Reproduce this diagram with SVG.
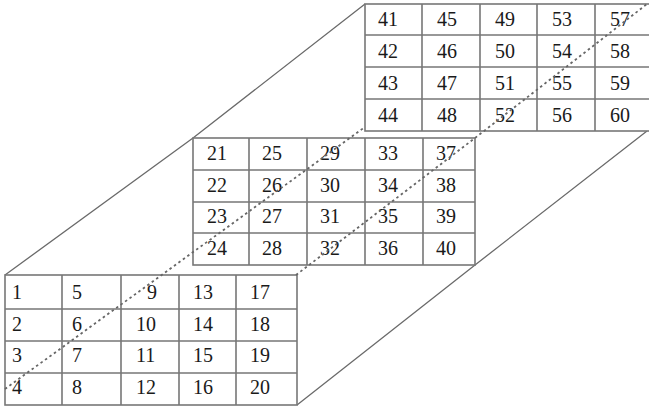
<svg xmlns="http://www.w3.org/2000/svg" width="649" height="411" viewBox="0 0 649 411">
<style>
.bg{fill:#fff}
.g{fill:#fff;stroke:#777;stroke-width:1.6}
.gl{stroke:#777;stroke-width:1.6;fill:none}
.t{font-family:"Liberation Serif","Times New Roman",serif;font-size:20px;fill:#1a1a1a}
.s{stroke:#6a6a6a;stroke-width:1.3;fill:none}
.d{stroke:#666;stroke-width:1.8;fill:none;stroke-dasharray:2.5 3}
</style>
<rect class="bg" x="0" y="0" width="649" height="411"/>
<g id="connectors-solid">
<polyline class="s" points="5,275 193,138 365,4"/>
<polyline class="s" points="297,405 475,265 647,131"/>
</g>
<g id="grid-top">
<rect class="g" x="365" y="4" width="287" height="127"/>
<path class="gl" d="M422,4V131M480,4V131M537,4V131M595,4V131M365,35H652M365,67H652M365,99H652"/>
<text class="t" x="378" y="26">41</text><text class="t" x="437" y="26">45</text><text class="t" x="495" y="26">49</text><text class="t" x="552" y="26">53</text><text class="t" x="610" y="26">57</text>
<text class="t" x="378" y="58">42</text><text class="t" x="437" y="58">46</text><text class="t" x="495" y="58">50</text><text class="t" x="552" y="58">54</text><text class="t" x="610" y="58">58</text>
<text class="t" x="378" y="90">43</text><text class="t" x="437" y="90">47</text><text class="t" x="495" y="90">51</text><text class="t" x="552" y="90">55</text><text class="t" x="610" y="90">59</text>
<text class="t" x="378" y="122">44</text><text class="t" x="437" y="122">48</text><text class="t" x="495" y="122">52</text><text class="t" x="552" y="122">56</text><text class="t" x="610" y="122">60</text>
</g>
<g id="grid-middle">
<rect class="g" x="193" y="138" width="282" height="127"/>
<path class="gl" d="M249,138V265M307,138V265M365,138V265M423,138V265M193,170H475M193,202H475M193,233H475"/>
<text class="t" x="207" y="160">21</text><text class="t" x="262" y="160">25</text><text class="t" x="320" y="160">29</text><text class="t" x="378" y="160">33</text><text class="t" x="436" y="160">37</text>
<text class="t" x="207" y="192">22</text><text class="t" x="262" y="192">26</text><text class="t" x="320" y="192">30</text><text class="t" x="378" y="192">34</text><text class="t" x="436" y="192">38</text>
<text class="t" x="207" y="223">23</text><text class="t" x="262" y="223">27</text><text class="t" x="320" y="223">31</text><text class="t" x="378" y="223">35</text><text class="t" x="436" y="223">39</text>
<text class="t" x="207" y="255">24</text><text class="t" x="262" y="255">28</text><text class="t" x="320" y="255">32</text><text class="t" x="378" y="255">36</text><text class="t" x="436" y="255">40</text>
</g>
<g id="grid-bottom">
<rect class="g" x="5" y="275" width="292" height="130"/>
<path class="gl" d="M62,275V405M121,275V405M179,275V405M236,275V405M5,309H297M5,341H297M5,373H297"/>
<text class="t" x="12" y="299">1</text><text class="t" x="72" y="299">5</text><text class="t" x="147" y="299">9</text><text class="t" x="193" y="299">13</text><text class="t" x="250" y="299">17</text>
<text class="t" x="12" y="331">2</text><text class="t" x="72" y="331">6</text><text class="t" x="136" y="331">10</text><text class="t" x="193" y="331">14</text><text class="t" x="250" y="331">18</text>
<text class="t" x="12" y="362">3</text><text class="t" x="72" y="362">7</text><text class="t" x="136" y="362">11</text><text class="t" x="193" y="362">15</text><text class="t" x="250" y="362">19</text>
<text class="t" x="12" y="394">4</text><text class="t" x="72" y="394">8</text><text class="t" x="136" y="394">12</text><text class="t" x="193" y="394">16</text><text class="t" x="250" y="394">20</text>
</g>
<g id="connectors-dotted">
<line class="d" x1="5" y1="389" x2="365" y2="127"/>
<polyline class="d" points="296,275 475,138 647,4"/>
</g>
</svg>
